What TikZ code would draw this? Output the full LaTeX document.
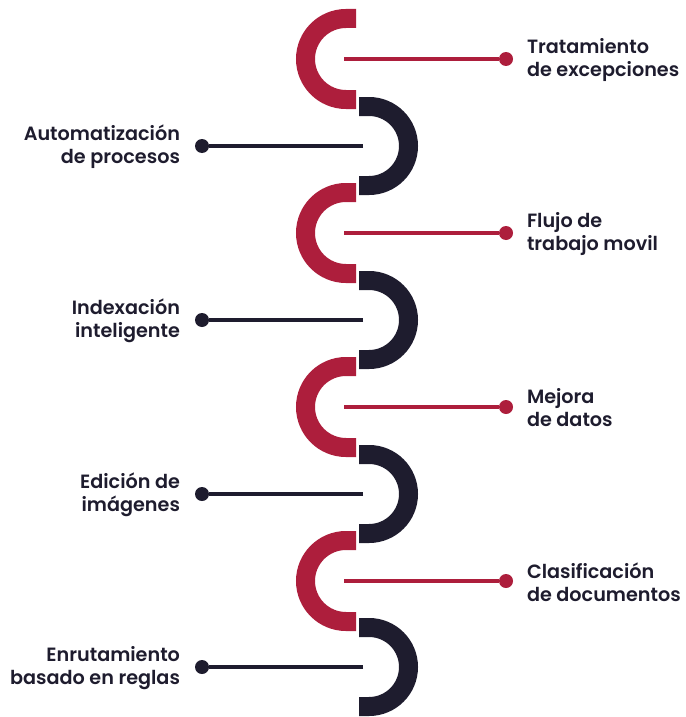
\documentclass[tikz,border=0pt]{standalone}
\usepackage{fontspec}
\setmainfont{Poppins SemiBold}
\usepackage{tikz}
\definecolor{crimson}{RGB}{173,30,60}
\definecolor{ink}{RGB}{30,28,46}
\tikzset{
  redarc/.style={draw=crimson, line width=19pt},
  darkarc/.style={draw=ink, line width=19pt},
  redline/.style={draw=crimson, line width=3.5pt},
  darkline/.style={draw=ink, line width=3.5pt},
  reddot/.style={circle, fill=crimson, inner sep=0pt, minimum size=14pt},
  darkdot/.style={circle, fill=ink, inner sep=0pt, minimum size=14pt},
  rlabel/.style={anchor=west, align=left, text=ink, font=\fontsize{19.2}{23}\selectfont},
  llabel/.style={anchor=east, align=right, text=ink, font=\fontsize{19.2}{23}\selectfont}
}
\begin{document}
\begin{tikzpicture}[x=1pt, y=1pt]
    \useasboundingbox (0,0) rectangle (685,-717);
    % red arcs, opening to the right
    \draw[redarc] (356,-18.5) -- (346,-18.5) arc[start angle=90, end angle=270, radius=40.5] -- (356,-99.5);
    \draw[redarc] (356,-192.5) -- (346,-192.5) arc[start angle=90, end angle=270, radius=40.5] -- (356,-273.5);
    \draw[redarc] (356,-366.5) -- (346,-366.5) arc[start angle=90, end angle=270, radius=40.5] -- (356,-447.5);
    \draw[redarc] (356,-540.5) -- (346,-540.5) arc[start angle=90, end angle=270, radius=40.5] -- (356,-621.5);
    % dark arcs, opening to the left
    \draw[darkarc] (359,-106.5) -- (369,-106.5) arc[start angle=90, end angle=-90, radius=39.5] -- (359,-185.5);
    \draw[darkarc] (359,-280.5) -- (369,-280.5) arc[start angle=90, end angle=-90, radius=39.5] -- (359,-359.5);
    \draw[darkarc] (359,-454.5) -- (369,-454.5) arc[start angle=90, end angle=-90, radius=39.5] -- (359,-533.5);
    \draw[darkarc] (359,-627.5) -- (369,-627.5) arc[start angle=90, end angle=-90, radius=39.5] -- (359,-706.5);

    % right side
    \coordinate (r1) at (344,-59);
    \node[reddot] (d1) at (506,-59) {};
    \node[rlabel] (t1) at (523.5,-60) {Tratamiento\\de excepciones};
    \draw[redline] (r1) -- (d1);
    \coordinate (r2) at (344,-233);
    \node[reddot] (d2) at (506,-233) {};
    \node[rlabel] (t2) at (523.5,-234) {Flujo de\\trabajo movil};
    \draw[redline] (r2) -- (d2);
    \coordinate (r3) at (344,-407);
    \node[reddot] (d3) at (506,-407) {};
    \node[rlabel] (t3) at (523.5,-408) {Mejora\\de datos};
    \draw[redline] (r3) -- (d3);
    \coordinate (r4) at (344,-581);
    \node[reddot] (d4) at (506,-581) {};
    \node[rlabel] (t4) at (523.5,-582) {Clasificación\\de documentos};
    \draw[redline] (r4) -- (d4);

    % left side
    \coordinate (l1) at (363,-146);
    \node[darkdot] (e1) at (202,-146) {};
    \node[llabel] (s1) at (183.5,-147) {Automatización\\de procesos};
    \draw[darkline] (l1) -- (e1);
    \coordinate (l2) at (363,-320);
    \node[darkdot] (e2) at (202,-320) {};
    \node[llabel] (s2) at (183.5,-321) {Indexación\\inteligente};
    \draw[darkline] (l2) -- (e2);
    \coordinate (l3) at (363,-494);
    \node[darkdot] (e3) at (202,-494) {};
    \node[llabel] (s3) at (183.5,-495) {Edición de\\imágenes};
    \draw[darkline] (l3) -- (e3);
    \coordinate (l4) at (363,-667);
    \node[darkdot] (e4) at (202,-667) {};
    \node[llabel] (s4) at (183.5,-668) {Enrutamiento\\basado en reglas};
    \draw[darkline] (l4) -- (e4);
  \end{tikzpicture}
\end{document}
